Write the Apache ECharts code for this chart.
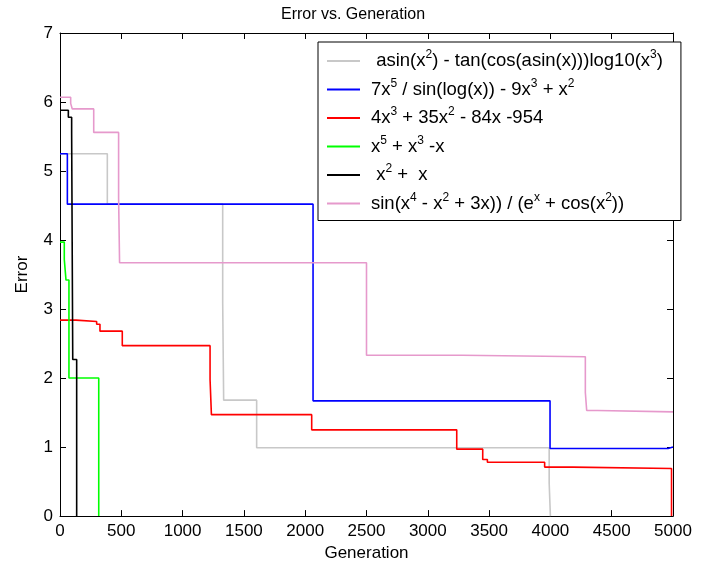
<!DOCTYPE html>
<html><head><meta charset="utf-8">
<script src="https://cdn.jsdelivr.net/npm/echarts@6/dist/echarts.min.js"></script>
<style>html,body{margin:0;padding:0;background:#fff}#c{width:706px;height:567px}</style>
</head><body><div id="c"></div>
<script>
const FONT = '"Liberation Sans",Arial,sans-serif';

const titleText = 'Error vs. Generation';
const xName = 'Generation';
const yName = 'Error';

const seriesNames = [
  ' asin(x^2) - tan(cos(asin(x)))log10(x^3)',
  '7x^5 / sin(log(x)) - 9x^3 + x^2',
  '4x^3 + 35x^2 - 84x -954',
  'x^5 + x^3 -x',
  ' x^2 +  x',
  'sin(x^4 - x^2 + 3x)) / (e^x + cos(x^2))'
];

// generation at which each error level starts (stairs), and the error level
const grayGen  = [0, 386, 1327, 1335, 1604, 3990, 4000];
const grayErr  = [5.25, 4.52, 3.10, 1.68, 0.99, 0.48, 0];

const blueGen  = [0, 60, 2064, 3997, 4960, 5000];
const blueErr  = [5.25, 4.52, 1.67, 0.98, 1.00, 1.00];

const redGen   = [0, 130, 299, 326, 508, 1224, 1235, 2053, 3236, 3448, 3486, 3953, 4182, 4988];
const redErr   = [2.84, 2.82, 2.78, 2.68, 2.47, 1.98, 1.47, 1.25, 0.97, 0.82, 0.78, 0.71, 0.69, 0];

const greenGen = [0, 35, 49, 73, 316];
const greenErr = [3.97, 3.72, 3.42, 2.00, 0];

const blackGen = [0, 68, 95, 104, 136];
const blackErr = [5.88, 5.78, 5.55, 2.27, 0];

const pinkGen  = [0, 87, 100, 275, 478, 486, 2500, 3280, 4285, 4296, 4386, 5000];
const pinkErr  = [6.07, 5.98, 5.90, 5.56, 4.61, 3.67, 2.33, 2.31, 1.79, 1.53, 1.51, 1.51];

const gens = [grayGen, blueGen, redGen, greenGen, blackGen, pinkGen];
const errs = [grayErr, blueErr, redErr, greenErr, blackErr, pinkErr];
const colors = ['#c8c8c8', '#0000ff', '#ff0000', '#00ff00', '#000000', '#e699cc'];

const chart = echarts.init(document.getElementById('c'), null, {renderer: 'canvas'});

const axisBase = {
  min: 0,
  axisLine: {show: true, onZero: false, lineStyle: {color: '#000', width: 1}},
  axisTick: {show: true, inside: true, length: 6, lineStyle: {color: '#000'}},
  splitLine: {show: false}
};

const series = seriesNames.map((n, i) => ({
  name: n,
  type: 'line',
  step: 'end',
  showSymbol: false,
  symbol: 'none',
  color: colors[i],
  lineStyle: {width: 1.6, color: colors[i]},
  data: gens[i].map((g, k) => [g, errs[i][k]]),
  xAxisIndex: 0,
  yAxisIndex: 0,
  animation: false
}));

chart.setOption({
  animation: false,
  backgroundColor: '#fff',
  textStyle: {fontFamily: FONT},
  title: {
    text: titleText, left: 'center', top: 7, padding: 0,
    textStyle: {fontFamily: FONT, fontSize: 16, fontWeight: 'normal', color: '#000'}
  },
  grid: {left: 60, right: 33, top: 33, bottom: 50},
  legend: {
    orient: 'vertical', left: 318, top: 42,
    padding: [7, 18, 5, 9],
    itemGap: 4.5, itemWidth: 33, itemHeight: 2, icon: 'rect',
    backgroundColor: '#fff', borderColor: '#000', borderWidth: 1,
    selectedMode: false,
    data: seriesNames,
    formatter: n => n.replace(/\^(\w)/g, '{sup|$1}'),
    textStyle: {
      fontFamily: FONT, fontSize: 18.5, color: '#000', lineHeight: 24, padding: [0, 0, 0, 6],
      rich: {sup: {fontFamily: FONT, fontSize: 12, lineHeight: 13, verticalAlign: 'top', color: '#000'}}
    }
  },
  xAxis: [
    Object.assign({}, axisBase, {
      type: 'value', max: 5000, interval: 500, position: 'bottom',
      name: xName, nameLocation: 'middle', nameGap: 28,
      nameTextStyle: {fontFamily: FONT, fontSize: 17, color: '#000'},
      axisLabel: {fontFamily: FONT, fontSize: 17, color: '#000', margin: 7, formatter: v => String(v)}
    }),
    Object.assign({}, axisBase, {
      type: 'value', max: 5000, interval: 500, position: 'top',
      axisLabel: {show: false}
    })
  ],
  yAxis: [
    Object.assign({}, axisBase, {
      type: 'value', max: 7, interval: 1, position: 'left',
      name: yName, nameLocation: 'middle', nameGap: 29,
      nameTextStyle: {fontFamily: FONT, fontSize: 17, color: '#000'},
      axisLabel: {fontFamily: FONT, fontSize: 17, color: '#000', margin: 7, formatter: v => String(v)}
    }),
    Object.assign({}, axisBase, {
      type: 'value', max: 7, interval: 1, position: 'right',
      axisLabel: {show: false}
    })
  ],
  series: series
});
</script></body></html>
